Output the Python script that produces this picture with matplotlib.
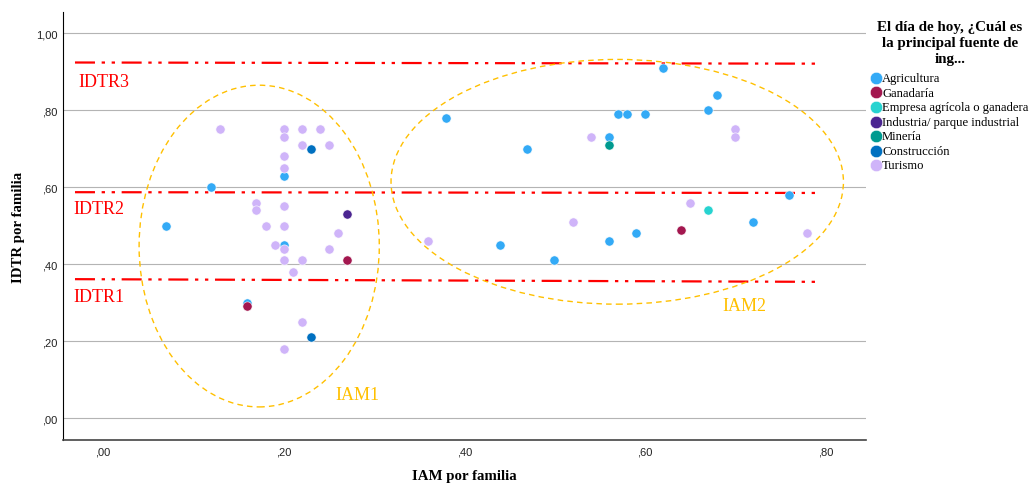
import matplotlib
matplotlib.use("Agg")
import matplotlib.pyplot as plt
from matplotlib.patches import Ellipse
from matplotlib.ticker import FuncFormatter

# data (IAM, IDTR per family)
agricultura_x = [0.07, 0.12, 0.20, 0.20, 0.16, 0.38, 0.44, 0.47, 0.50, 0.56,
                 0.56, 0.57, 0.58, 0.59, 0.60, 0.62, 0.67, 0.68, 0.72, 0.76]
agricultura_y = [0.50, 0.60, 0.63, 0.45, 0.30, 0.78, 0.45, 0.70, 0.41, 0.73,
                 0.46, 0.79, 0.79, 0.48, 0.79, 0.91, 0.80, 0.84, 0.51, 0.58]
ganaderia_x = [0.16, 0.27, 0.64]
ganaderia_y = [0.29, 0.41, 0.49]
empresa_x = [0.67]
empresa_y = [0.54]
industria_x = [0.27]
industria_y = [0.53]
mineria_x = [0.56]
mineria_y = [0.71]
construccion_x = [0.23, 0.23]
construccion_y = [0.70, 0.21]
turismo_x = [0.13, 0.20, 0.22, 0.24, 0.20, 0.22, 0.25, 0.20, 0.20, 0.17,
             0.17, 0.20, 0.18, 0.20, 0.26, 0.19, 0.20, 0.25, 0.20, 0.22,
             0.21, 0.22, 0.20, 0.36, 0.52, 0.54, 0.65, 0.70, 0.70, 0.78]
turismo_y = [0.75, 0.75, 0.75, 0.75, 0.73, 0.71, 0.71, 0.68, 0.65, 0.56,
             0.54, 0.55, 0.50, 0.50, 0.48, 0.45, 0.44, 0.44, 0.41, 0.41,
             0.38, 0.25, 0.18, 0.46, 0.51, 0.73, 0.56, 0.75, 0.73, 0.48]

categories = ["Agricultura", "Ganadaría", "Empresa agrícola o ganadera",
              "Industria/ parque industrial", "Minería", "Construcción", "Turismo"]
xs = [agricultura_x, ganaderia_x, empresa_x, industria_x, mineria_x, construccion_x, turismo_x]
ys = [agricultura_y, ganaderia_y, empresa_y, industria_y, mineria_y, construccion_y, turismo_y]
colors = ["#33aaf6", "#a3174f", "#27d3d0", "#4b2591", "#009a8f", "#0070c0", "#cfb4f9"]

# IDTR threshold lines (left / right end) and labels
idtr_names = ["IDTR3", "IDTR2", "IDTR1"]
idtr_left = [0.924, 0.587, 0.361]
idtr_right = [0.921, 0.585, 0.354]
idtr_xrange = [-0.031, 0.794]
idtr_label_x = [-0.027, -0.033, -0.033]
idtr_label_y = [0.875, 0.545, 0.315]

# IAM groups (ellipses)
iam_names = ["IAM1", "IAM2"]
iam_cx = [0.173, 0.5695]
iam_cy = [0.447, 0.614]
iam_w = [0.266, 0.501]
iam_h = [0.836, 0.636]
iam_label_x = [0.257, 0.686]
iam_label_y = [0.062, 0.292]


def comma_fmt(v, pos):
    s = "{:.2f}".format(v).replace(".", ",")
    if s.startswith("0,"):
        s = s[1:]
    return s


fig = plt.figure(figsize=(10.29, 4.85), dpi=100)
ax = fig.add_axes([0.0612, 0.0907, 0.7804, 0.8823])

for x, y, c, n in zip(xs, ys, colors, categories):
    ax.scatter(x, y, s=44, color=c, edgecolor="white", linewidth=0.4, label=n, zorder=4)

red_ls = (0, (9, 3, 1.5, 3, 1.5, 3))
for name, yl, yr, lx, ly in zip(idtr_names, idtr_left, idtr_right, idtr_label_x, idtr_label_y):
    ax.plot(idtr_xrange, [yl, yr], color="red", lw=1.6, linestyle=red_ls, zorder=3)
    ax.text(lx, ly, name, color="red", fontsize=13, family="Liberation Serif",
            ha="left", va="center")

for name, cx, cy, w, h, lx, ly in zip(iam_names, iam_cx, iam_cy, iam_w, iam_h, iam_label_x, iam_label_y):
    ax.add_patch(Ellipse((cx, cy), w, h, fill=False, edgecolor="#ffc000",
                         lw=1.0, linestyle=(0, (4, 3)), zorder=3))
    ax.text(lx, ly, name, color="#ffc000", fontsize=13, family="Liberation Serif",
            ha="left", va="center")

ax.set_xlim(-0.0443, 0.845)
ax.set_ylim(-0.057, 1.055)
ax.set_xticks([0, 0.2, 0.4, 0.6, 0.8])
ax.set_yticks([0, 0.2, 0.4, 0.6, 0.8, 1.0])
ax.xaxis.set_major_formatter(FuncFormatter(comma_fmt))
ax.yaxis.set_major_formatter(FuncFormatter(comma_fmt))
ax.tick_params(length=0, labelsize=8, labelcolor="#222222")
ax.tick_params(axis="x", pad=5)
ax.tick_params(axis="y", pad=4)
for lab in ax.get_xticklabels() + ax.get_yticklabels():
    lab.set_family("Liberation Sans")
ax.grid(axis="y", color="#b4b4b4", lw=0.8)
ax.set_axisbelow(True)
for s in ["top", "right"]:
    ax.spines[s].set_visible(False)
ax.spines["left"].set_color("black")
ax.spines["bottom"].set_color("#444444")
ax.spines["bottom"].set_linewidth(1.2)

ax.set_xlabel("IAM por familia", fontsize=10.7, fontweight="bold",
              family="Liberation Serif")
ax.xaxis.set_label_coords(0.5, -0.082)
ax.xaxis.label.set_va("center")
ax.set_ylabel("IDTR por familia", fontsize=10.7, fontweight="bold",
              family="Liberation Serif")
ax.yaxis.set_label_coords(-0.056, 0.5)
ax.yaxis.label.set_va("center")

leg = fig.legend(loc="upper center", bbox_to_anchor=(950 / 1029, 1 - 15 / 485),
                 title="El día de hoy, ¿Cuál es\nla principal fuente de\ning...",
                 frameon=False, handletextpad=0.05, handlelength=0.8,
                 borderpad=0, labelspacing=0.2, markerscale=1.35,
                 prop={"family": "Liberation Serif", "size": 9.1},
                 title_fontproperties={"family": "Liberation Serif", "size": 10.8,
                                       "weight": "bold"})
leg.get_title().set_multialignment("center")
leg.get_title().set_linespacing(1.3)
leg._legend_box.align = "center"
leg._legend_box.sep = 5

fig.savefig("out.png", dpi=100)
